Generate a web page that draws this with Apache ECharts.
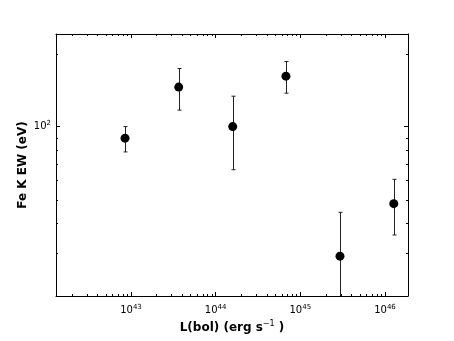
<!DOCTYPE html>
<html>
<head>
<meta charset="utf-8">
<script src="https://cdn.jsdelivr.net/npm/echarts@6/dist/echarts.min.js"></script>
<style>
  html, body { margin: 0; padding: 0; background: #fff; }
  #main { width: 454px; height: 341px; }
</style>
</head>
<body>
<div id="main"></div>
<script>
// luminosity (erg/s) and Fe K equivalent width (eV)
var lbol   = [8.5e42, 3.66e43, 1.59e44, 6.76e44, 2.94e45, 1.27e46];
var ew     = [89.6, 145.5, 100, 161.5, 29.2, 48.1];
var ewLow  = [78.6, 116.9, 66.4, 137.4, 10, 35.7];
var ewHigh = [100, 173.7, 133.5, 185.6, 44.3, 60.6];

var xRange = [1.3e42, 1.87e46];
var yRange = [20, 241];

var FONT = 'DejaVu Sans';

// minor tick positions 2..9 x 10^n inside the range
function minorTicks(range) {
  var out = [];
  var lo = Math.floor(Math.log10(range[0])), hi = Math.ceil(Math.log10(range[1]));
  for (var n = lo; n <= hi; n++) {
    for (var k = 2; k <= 9; k++) {
      var v = k * Math.pow(10, n);
      if (v > range[0] && v < range[1]) out.push(v);
    }
  }
  return out;
}
var xMinor = minorTicks(xRange);
var yMinor = minorTicks(yRange);

function powLabel(v) {
  var l = Math.log10(v), e = Math.round(l);
  if (Math.abs(l - e) > 1e-6) return '';
  return '{b|10}{s|' + e + '}';
}
var labelRich = {
  b: { fontSize: 10, fontFamily: FONT, color: '#000' },
  s: { fontSize: 7, fontFamily: FONT, color: '#000', verticalAlign: 'top', padding: [0, 0, 6, 0] }
};

var points = lbol.map(function (x, i) { return [x, ew[i]]; });
var bars = lbol.map(function (x, i) { return [x, ewLow[i], ewHigh[i]]; });

var myChart = echarts.init(document.getElementById('main'));

var axisLine = { show: true, lineStyle: { color: '#000', width: 1 } };
var tick = { show: true, inside: true, length: 4, lineStyle: { color: '#000' } };

var option = {
  animation: false,
  backgroundColor: '#fff',
  grid: { left: 56, right: 46, top: 34, bottom: 45 },
  xAxis: [
    {
      type: 'log', min: xRange[0], max: xRange[1], position: 'bottom',
      axisLine: axisLine, axisTick: tick, splitLine: { show: false },
      axisLabel: { formatter: powLabel, rich: labelRich, margin: 8 },
      name: '{n|L(bol) (erg s}{s|−1}{n| )}', nameLocation: 'middle', nameGap: 24,
      nameMoveOverlap: false,
      nameTextStyle: {
        rich: {
          n: { fontSize: 12, fontWeight: 'bold', fontFamily: FONT, color: '#000' },
          s: { fontSize: 8, fontFamily: FONT, color: '#000', verticalAlign: 'top', padding: [0, 0, 8, 0] }
        }
      }
    },
    {
      type: 'log', min: xRange[0], max: xRange[1], position: 'top',
      axisLine: axisLine, axisTick: tick, splitLine: { show: false },
      axisLabel: { show: false }
    }
  ],
  yAxis: [
    {
      type: 'log', min: yRange[0], max: yRange[1], position: 'left',
      axisLine: axisLine, axisTick: tick, splitLine: { show: false },
      axisLabel: { formatter: powLabel, rich: labelRich, margin: 5 },
      name: 'Fe K EW (eV)', nameLocation: 'middle', nameGap: 27, nameRotate: 90,
      nameMoveOverlap: false,
      nameTextStyle: { fontSize: 12, fontWeight: 'bold', fontFamily: FONT, color: '#000' }
    },
    {
      type: 'log', min: yRange[0], max: yRange[1], position: 'right',
      axisLine: axisLine, axisTick: tick, splitLine: { show: false },
      axisLabel: { show: false }
    }
  ],
  series: [
    {
      // minor ticks on x (bottom and top)
      type: 'custom', silent: true, xAxisIndex: 0, yAxisIndex: 0,
      data: xMinor.map(function (v) { return [v, yRange[0]]; }),
      renderItem: function (params, api) {
        var cs = params.coordSys;
        var x = Math.round(api.coord([api.value(0), yRange[0]])[0]) + 0.5;
        var b = cs.y + cs.height;
        var st = { stroke: '#000', lineWidth: 1 };
        return { type: 'group', children: [
          { type: 'line', shape: { x1: x, y1: b, x2: x, y2: b - 2 }, style: st },
          { type: 'line', shape: { x1: x, y1: cs.y, x2: x, y2: cs.y + 2 }, style: st }
        ] };
      }
    },
    {
      // minor ticks on y (left and right)
      type: 'custom', silent: true, xAxisIndex: 0, yAxisIndex: 0,
      data: yMinor.map(function (v) { return [xRange[0], v]; }),
      renderItem: function (params, api) {
        var cs = params.coordSys;
        var y = Math.round(api.coord([xRange[0], api.value(1)])[1]) + 0.5;
        var r = cs.x + cs.width;
        var st = { stroke: '#000', lineWidth: 1 };
        return { type: 'group', children: [
          { type: 'line', shape: { x1: cs.x, y1: y, x2: cs.x + 2, y2: y }, style: st },
          { type: 'line', shape: { x1: r, y1: y, x2: r - 2, y2: y }, style: st }
        ] };
      }
    },
    {
      // error bars
      type: 'custom', clip: true, xAxisIndex: 0, yAxisIndex: 0,
      data: bars,
      encode: { x: 0, y: [1, 2] },
      renderItem: function (params, api) {
        var lo = api.coord([api.value(0), api.value(1)]);
        var hi = api.coord([api.value(0), api.value(2)]);
        var x = Math.round(lo[0]) + 0.5;
        var st = { stroke: '#222', lineWidth: 1 };
        return { type: 'group', children: [
          { type: 'line', shape: { x1: x, y1: lo[1], x2: x, y2: hi[1] }, style: st },
          { type: 'line', shape: { x1: x - 2, y1: hi[1], x2: x + 2, y2: hi[1] }, style: st },
          { type: 'line', shape: { x1: x - 2, y1: lo[1], x2: x + 2, y2: lo[1] }, style: st }
        ] };
      }
    },
    {
      type: 'scatter', xAxisIndex: 0, yAxisIndex: 0,
      data: points, symbol: 'circle', symbolSize: 9,
      itemStyle: { color: '#000', opacity: 1 }, z: 5
    }
  ]
};
myChart.setOption(option);
</script>
</body>
</html>
